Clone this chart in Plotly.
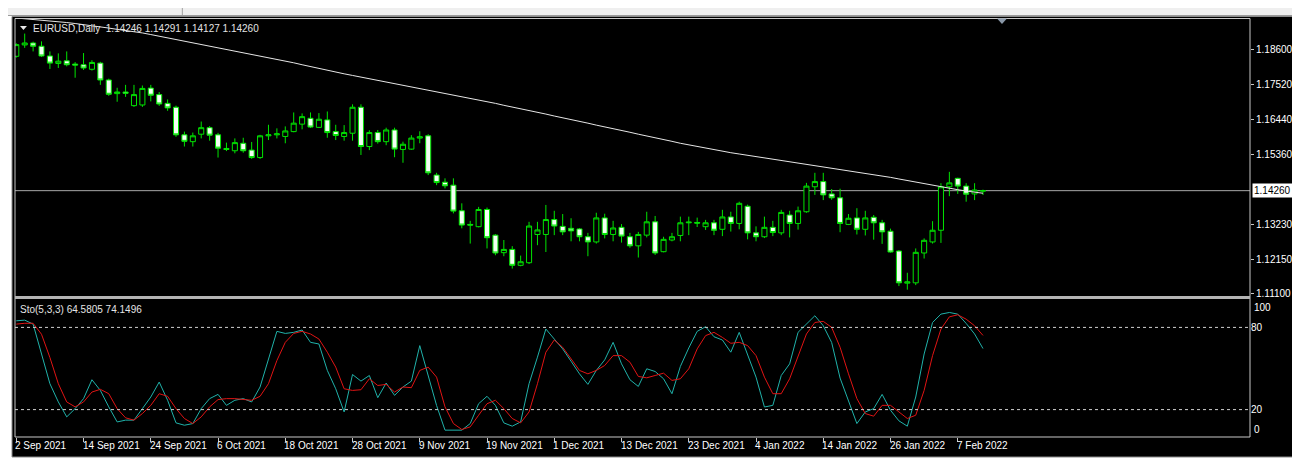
import plotly.graph_objects as go
import pandas as pd

# ---------------- data ----------------
dates = [d.strftime('%Y-%m-%d') for d in pd.bdate_range('2021-09-02', '2022-02-10')]

opens = [1.1840,1.1875,1.1881,1.1871,1.1841,1.1818,1.1826,1.1816,1.1814,1.1800,
 1.1819,1.1767,1.1725,1.1730,1.1688,1.1690,1.1742,1.1722,1.1695,1.1683,
 1.1598,1.1577,1.1600,1.1620,1.1598,1.1556,1.1549,1.1572,1.1551,1.1528,
 1.1595,1.1598,1.1593,1.1608,1.1631,1.1649,1.1621,1.1644,1.1608,1.1593,
 1.1603,1.1683,1.1562,1.1605,1.1577,1.1613,1.1553,1.1554,1.1588,1.1595,
 1.1474,1.1452,1.1443,1.1364,1.1322,1.1315,1.1368,1.1289,1.1235,1.1245,
 1.1196,1.1204,1.1291,1.1291,1.1337,1.1316,1.1310,1.1308,1.1284,1.1268,
 1.1342,1.1291,1.1313,1.1284,1.1256,1.1289,1.1330,1.1238,1.1274,1.1288,
 1.1327,1.1328,1.1315,1.1327,1.1307,1.1345,1.1325,1.1378,1.1296,1.1284,
 1.1313,1.1296,1.1351,1.1325,1.1361,1.1438,1.1454,1.1416,1.1404,1.1322,
 1.1342,1.1307,1.1344,1.1327,1.1301,1.1240,1.1141,1.1142,1.1234,1.1268,
 1.1304,1.1438,1.1464,1.1440,1.1416,1.14246]

highs = [1.1880,1.1910,1.1885,1.1886,1.1855,1.1849,1.1855,1.1822,1.1850,1.1828,
 1.1823,1.1771,1.1743,1.1752,1.1752,1.1750,1.1752,1.1730,1.1707,1.1688,
 1.1608,1.1605,1.1639,1.1625,1.1604,1.1574,1.1587,1.1589,1.1576,1.1598,
 1.1629,1.1618,1.1624,1.1667,1.1664,1.1667,1.1665,1.1670,1.1629,1.1628,
 1.1692,1.1692,1.1612,1.1613,1.1620,1.1620,1.1577,1.1597,1.1609,1.1600,
 1.1481,1.1464,1.1464,1.1387,1.1333,1.1376,1.1374,1.1292,1.1274,1.1255,
 1.1226,1.1330,1.1330,1.1382,1.1364,1.1354,1.1341,1.1311,1.1296,1.1358,
 1.1355,1.1333,1.1323,1.1296,1.1299,1.1361,1.1348,1.1284,1.1296,1.1346,
 1.1346,1.1343,1.1336,1.1336,1.1367,1.1361,1.1392,1.1383,1.1316,1.1346,
 1.1333,1.1367,1.1364,1.1377,1.1450,1.1481,1.1481,1.1431,1.1432,1.1354,
 1.1372,1.1364,1.1351,1.1336,1.1309,1.1243,1.1173,1.1248,1.1279,1.1332,
 1.1449,1.1484,1.1466,1.1449,1.1449,1.14291]

lows = [1.1836,1.1866,1.1855,1.1838,1.1801,1.1804,1.1809,1.1774,1.1798,1.1796,
 1.1752,1.1718,1.1700,1.1715,1.1684,1.1684,1.1701,1.1687,1.1672,1.1592,
 1.1562,1.1562,1.1587,1.1580,1.1528,1.1548,1.1541,1.1543,1.1524,1.1524,
 1.1582,1.1587,1.1572,1.1606,1.1615,1.1619,1.1619,1.1589,1.1582,1.1580,
 1.1580,1.1536,1.1551,1.1571,1.1566,1.1529,1.1512,1.1552,1.1572,1.1474,
 1.1443,1.1433,1.1356,1.1310,1.1263,1.1313,1.1248,1.1227,1.1224,1.1186,
 1.1193,1.1200,1.1258,1.1237,1.1289,1.1289,1.1270,1.1270,1.1224,1.1263,
 1.1279,1.1270,1.1266,1.1250,1.1220,1.1282,1.1228,1.1236,1.1270,1.1270,
 1.1289,1.1314,1.1305,1.1289,1.1286,1.1300,1.1307,1.1276,1.1270,1.1280,
 1.1286,1.1289,1.1282,1.1306,1.1358,1.1413,1.1397,1.1398,1.1298,1.1320,
 1.1291,1.1288,1.1275,1.1262,1.1235,1.1132,1.1121,1.1135,1.1217,1.1263,
 1.1265,1.1409,1.1416,1.1392,1.1397,1.14127]

closes = [1.1876,1.1881,1.1871,1.1841,1.1819,1.1825,1.1814,1.1813,1.1804,1.1821,
 1.1767,1.1723,1.1730,1.1726,1.1722,1.1741,1.1720,1.1693,1.1681,1.1598,
 1.1578,1.1595,1.1620,1.1597,1.1557,1.1553,1.1574,1.1549,1.1528,1.1595,
 1.1598,1.1601,1.1610,1.1634,1.1654,1.1622,1.1646,1.1605,1.1596,1.1605,
 1.1683,1.1562,1.1605,1.1577,1.1613,1.1554,1.1569,1.1588,1.1592,1.1481,
 1.1451,1.1441,1.1363,1.1320,1.1320,1.1368,1.1281,1.1234,1.1245,1.1196,
 1.1207,1.1317,1.1305,1.1337,1.1317,1.1299,1.1302,1.1284,1.1268,1.1342,
 1.1291,1.1311,1.1286,1.1256,1.1291,1.1330,1.1234,1.1276,1.1284,1.1327,
 1.1329,1.1326,1.1327,1.1304,1.1345,1.1325,1.1387,1.1296,1.1284,1.1313,
 1.1297,1.1359,1.1325,1.1364,1.1440,1.1454,1.1413,1.1404,1.1325,1.1341,
 1.1307,1.1342,1.1327,1.1299,1.1237,1.1142,1.1145,1.1236,1.1273,1.1304,
 1.1438,1.1450,1.1440,1.1415,1.1428,1.14260]

ma_line = [1.1958,1.1956,1.1954,1.1952,1.1950,1.1947,1.1944,1.1941,1.1938,1.1935,
 1.1931,1.1927,1.1923,1.1920,1.1916,1.1912,1.1907,1.1902,1.1897,1.1892,
 1.1887,1.1882,1.1877,1.1872,1.1867,1.1862,1.1857,1.1852,1.1847,1.1841,
 1.1836,1.1830,1.1825,1.1820,1.1814,1.1808,1.1803,1.1797,1.1792,1.1786,
 1.1781,1.1776,1.1771,1.1766,1.1761,1.1756,1.1751,1.1746,1.1741,1.1736,
 1.1732,1.1727,1.1722,1.1717,1.1711,1.1706,1.1700,1.1695,1.1689,1.1684,
 1.1678,1.1673,1.1667,1.1662,1.1656,1.1651,1.1645,1.1640,1.1634,1.1628,
 1.1623,1.1617,1.1612,1.1606,1.1600,1.1595,1.1589,1.1583,1.1578,1.1572,
 1.1567,1.1561,1.1556,1.1551,1.1547,1.1543,1.1539,1.1535,1.1531,1.1527,
 1.1523,1.1519,1.1516,1.1513,1.1509,1.1505,1.1501,1.1497,1.1493,1.1489,
 1.1484,1.1480,1.1476,1.1471,1.1467,1.1462,1.1457,1.1452,1.1447,1.1442,
 1.1437,1.1433,1.1429,1.1425,1.1421,1.1418]

stoch_k = [84.8,85.3,82.4,60.6,38.9,25.6,14.7,20.7,28.0,41.8,
 34.0,22.0,11.0,12.3,12.3,20.7,29.2,40.1,26.8,10.3,
 8.6,9.8,20.7,28.0,31.1,23.1,26.8,28.0,25.6,36.5,
 57.0,77.1,75.6,76.4,78.1,69.1,67.9,48.6,35.2,18.3,
 45.6,40.8,44.9,28.7,39.4,30.4,36.5,40.8,66.7,45.0,
 23.0,5.0,5.0,5.0,9.8,24.3,29.7,23.1,10.3,7.9,
 11.0,38.9,58.3,78.8,71.5,64.3,55.3,46.1,38.4,48.6,
 56.3,69.1,53.4,41.8,36.9,49.8,47.8,42.5,31.6,51.5,
 65.0,77.1,80.5,73.2,70.8,61.9,76.4,60.6,43.7,21.9,
 23.1,44.9,53.4,76.4,82.4,88.5,81.2,69.0,43.0,26.8,
 9.8,18.3,20.7,31.1,19.5,11.8,7.9,29.2,60.6,83.6,
 89.7,90.9,89.7,82.9,75.2,64.58]

stoch_d = [82.4,83.0,83.0,75.0,58.0,38.9,25.6,22.0,25.6,32.8,
 34.8,31.6,20.7,14.0,12.3,17.1,23.1,31.6,29.7,20.7,
 13.5,9.8,14.7,22.0,27.3,28.0,28.0,27.3,26.8,29.7,
 38.9,55.8,69.1,75.6,77.1,75.2,71.5,61.9,51.0,35.2,
 34.0,34.5,42.5,37.6,38.4,32.8,36.5,36.0,48.6,51.0,
 43.7,22.0,9.8,5.5,7.4,15.9,24.3,26.8,20.7,13.5,
 10.3,18.3,38.9,61.9,70.8,65.5,57.0,48.6,46.1,48.6,
 52.2,59.4,59.4,54.6,44.2,43.2,44.9,46.6,41.3,42.5,
 49.8,64.3,74.0,76.4,72.7,68.4,69.1,66.7,59.4,43.7,
 31.6,31.6,42.5,59.4,75.2,83.6,84.4,80.0,65.5,46.1,
 28.0,17.1,15.2,23.1,23.1,18.3,13.5,15.9,34.0,59.4,
 78.8,87.7,89.2,86.0,81.2,74.15]

price_ticks = [1.18600, 1.17520, 1.16440, 1.15360, 1.13230, 1.12150, 1.11100]
price_tick_text = ['1.18600', '1.17520', '1.16440', '1.15360', '1.13230', '1.12150', '1.11100']
last_price = 1.14260
stoch_levels = [80, 20]
header_text = 'EURUSD,Daily\u00a0\u00a01.14246 1.14291 1.14127 1.14260'
stoch_text = 'Sto(5,3,3) 64.5805 74.1496'

# ---------------- layout helpers (screen pixels; page has an 8px body margin) ----------------
OFF = 8
W, H = 1292, 455
ML, MT = 15 - OFF, 18 - OFF
PW, PH = 1240, 419
MR, MB = W - ML - PW, H - MT - PH


def PX(sx):
    return (sx - OFF - ML) / PW


def PY(sy):
    return (MT + PH - (sy - OFF)) / PH


xi = list(range(len(dates)))
label_idx = list(range(0, len(dates), 8))
label_txt = [pd.Timestamp(dates[i]).strftime('%d %b %Y').lstrip('0') for i in label_idx]

bar_px = 8.44
r0 = -1.3 / bar_px
r1 = r0 + PW / bar_px

GREEN = '#00e400'
FONT = 'Liberation Sans, Arial, sans-serif'
FRAME = '#c8c8c8'

fig = go.Figure()
fig.add_trace(go.Candlestick(
    x=xi, open=opens, high=highs, low=lows, close=closes,
    xaxis='x', yaxis='y', whiskerwidth=0,
    increasing=dict(line=dict(color=GREEN, width=1), fillcolor='black'),
    decreasing=dict(line=dict(color=GREEN, width=1), fillcolor='#f4fff4'),
    showlegend=False, hoverinfo='skip'))
fig.add_trace(go.Scatter(x=xi, y=ma_line, mode='lines', xaxis='x', yaxis='y',
                         line=dict(color='#e6e6e6', width=1), showlegend=False, hoverinfo='skip'))
fig.add_trace(go.Scatter(x=xi, y=stoch_k, mode='lines', xaxis='x2', yaxis='y2',
                         line=dict(color='#20b2aa', width=1), showlegend=False, hoverinfo='skip'))
fig.add_trace(go.Scatter(x=xi, y=stoch_d, mode='lines', xaxis='x2', yaxis='y2',
                         line=dict(color='#e01414', width=1), showlegend=False, hoverinfo='skip'))

main_dom = [PY(295.5), 1.0]
sto_dom = [0.0, PY(300)]

shapes = [
    # window background
    dict(type='rect', xref='paper', yref='paper', x0=PX(12), x1=PX(1298), y0=PY(457), y1=PY(16.5),
         fillcolor='black', line=dict(color='#8a8a8a', width=1), layer='below'),
    # top title-bar strip
    dict(type='rect', xref='paper', yref='paper', x0=PX(8), x1=PX(1300), y0=PY(15), y1=PY(8),
         fillcolor='#efefef', line=dict(width=0), layer='below'),
    dict(type='line', xref='paper', yref='paper', x0=PX(8), x1=PX(1300), y0=PY(15.5), y1=PY(15.5),
         line=dict(color='#9a9a9a', width=1)),
    dict(type='line', xref='paper', yref='paper', x0=PX(183), x1=PX(183), y0=PY(8), y1=PY(15),
         line=dict(color='#a0a0a0', width=1)),
    # frames
    dict(type='line', xref='paper', yref='paper', x0=PX(15), x1=PX(1255), y0=PY(18.5), y1=PY(18.5),
         line=dict(color=FRAME, width=1)),
    dict(type='line', xref='paper', yref='paper', x0=PX(15), x1=PX(15), y0=PY(437), y1=PY(18.5),
         line=dict(color=FRAME, width=1)),
    dict(type='line', xref='paper', yref='paper', x0=PX(1255), x1=PX(1255), y0=PY(437), y1=PY(18.5),
         line=dict(color=FRAME, width=1)),
    dict(type='line', xref='paper', yref='paper', x0=PX(15), x1=PX(1255), y0=PY(437), y1=PY(437),
         line=dict(color=FRAME, width=1)),
    dict(type='rect', xref='paper', yref='paper', x0=PX(15), x1=PX(1255), y0=PY(299), y1=PY(296),
         fillcolor='#b4b4b4', line=dict(width=0)),
    # bid line
    dict(type='line', xref='paper', yref='y', x0=PX(15), x1=PX(1255), y0=last_price, y1=last_price,
         line=dict(color='#a8a8a8', width=1), layer='below'),
    # header triangle
    dict(type='path', xref='paper', yref='paper',
         path=f'M {PX(20)},{PY(26)} L {PX(27)},{PY(26)} L {PX(23.5)},{PY(30)} Z',
         fillcolor='#e8e8e8', line=dict(width=0)),
    # chart shift marker
    dict(type='path', xref='paper', yref='paper',
         path=f'M {PX(1001)},{PY(18.5)} L {PX(1011)},{PY(18.5)} L {PX(1006)},{PY(24)} Z',
         fillcolor='#8a98a8', line=dict(width=0)),
]
for lv in stoch_levels:
    shapes.append(dict(type='line', xref='paper', yref='y2', x0=PX(15), x1=PX(1255), y0=lv, y1=lv,
                       line=dict(color='#d0d0d0', width=1, dash='3px,3px')))

annotations = [
    dict(text=header_text, xref='paper', yref='paper', x=PX(31), y=PY(28), xanchor='left',
         yanchor='middle', showarrow=False, font=dict(family=FONT, size=10, color='#e4e4e4')),
    dict(text=stoch_text, xref='paper', yref='paper', x=PX(18), y=PY(309), xanchor='left',
         yanchor='middle', showarrow=False, font=dict(family=FONT, size=10, color='#e4e4e4')),
    dict(text=f'{last_price:.5f}', xref='paper', yref='y', x=PX(1257), y=last_price, xanchor='left',
         yanchor='middle', showarrow=False, bgcolor='white', borderpad=1,
         font=dict(family=FONT, size=10, color='black')),
    dict(text='100', xref='paper', yref='y2', x=PX(1257), y=100, xanchor='left', yanchor='top',
         showarrow=False, font=dict(family=FONT, size=10, color='white')),
    dict(text='0', xref='paper', yref='y2', x=PX(1257), y=0, xanchor='left', yanchor='bottom',
         showarrow=False, font=dict(family=FONT, size=10, color='white')),
]
for i, t in zip(label_idx, label_txt):
    annotations.append(dict(text=t, xref='x2', yref='paper', x=i, y=0, xanchor='left', yanchor='top',
                            xshift=-3, yshift=-1, showarrow=False,
                            font=dict(family=FONT, size=10, color='white')))

fig.update_layout(
    width=W, height=H, autosize=False,
    margin=dict(l=ML, r=MR, t=MT, b=MB, pad=0),
    paper_bgcolor='white', plot_bgcolor='black',
    showlegend=False, hovermode=False,
    boxgap=0.2, boxgroupgap=0.25,
    shapes=shapes, annotations=annotations,
    xaxis=dict(domain=[0, 1], range=[r0, r1], anchor='y', showticklabels=False, showgrid=False,
               zeroline=False, showline=False, ticks='', rangeslider=dict(visible=False)),
    yaxis=dict(domain=main_dom, range=[1.1103, 1.1958], anchor='x', side='right',
               tickvals=price_ticks, ticktext=price_tick_text, ticks='outside', ticklen=3,
               tickcolor=FRAME, showgrid=False, zeroline=False, showline=False,
               tickfont=dict(family=FONT, size=10, color='white')),
    xaxis2=dict(domain=[0, 1], range=[r0, r1], anchor='y2', tickvals=label_idx, ticks='outside',
                ticklen=4, tickcolor=FRAME, showticklabels=False, showgrid=False, zeroline=False,
                showline=False),
    yaxis2=dict(domain=sto_dom, range=[0, 100], anchor='x2', side='right', tickvals=stoch_levels,
                ticktext=[str(v) for v in stoch_levels], ticks='', showgrid=False, zeroline=False,
                showline=False, tickfont=dict(family=FONT, size=10, color='white')),
)

fig.write_html('out.html', config={'displayModeBar': False})
